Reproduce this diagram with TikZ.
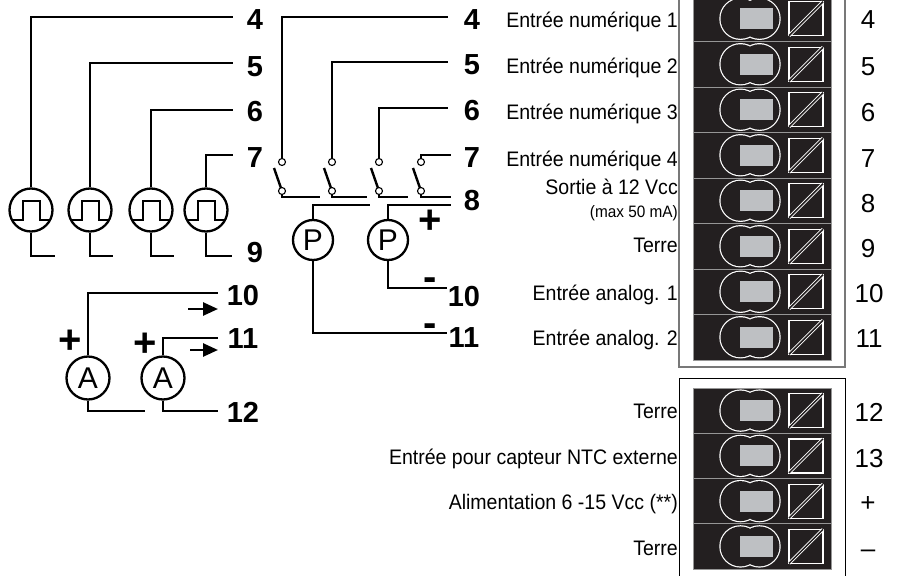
\documentclass[tikz,border=0pt]{standalone}
\usepackage{fontspec}
\setmainfont{Liberation Sans}
\newfontfamily\narrowfont{Liberation Sans}[FakeStretch=0.93]
\usetikzlibrary{arrows.meta}
\definecolor{colblack}{RGB}{35,31,32}
\definecolor{colgray}{RGB}{190,192,195}
\definecolor{colsep}{RGB}{150,150,150}
\definecolor{colframe}{RGB}{120,120,120}
\pgfdeclarelayer{bg}
\pgfsetlayers{bg,main}
\tikzset{
  % WIRES
  lineWire/.style={draw=black, line width=2.6pt},
  lineArrow/.style={draw=black, line width=2.6pt, -{Triangle[length=15pt,width=13pt]}},
  lineBlade/.style={draw=black, line width=2.4pt, shorten <=3pt},
  % SENSORS AND CONTACTS
  frameMeter/.style={
    circle, draw, line width=2.3pt,
    minimum size=43pt, inner sep=0pt,
    font=\fontsize{30}{30}\selectfont,
    text height=21.5pt, text depth=0pt
  },
  frameContact/.style={
    circle, draw, fill=white, line width=1.1pt,
    minimum size=7pt, inner sep=0pt
  },
  % LABELS
  labelPin/.style={
    inner sep=0pt, font=\fontsize{29}{29}\selectfont\bfseries,
    text height=20.8pt, text depth=0pt
  },
  labelSign/.style={inner sep=0pt, font=\fontsize{40}{40}\selectfont\bfseries},
  labelText/.style={
    anchor=east, inner sep=0pt, font=\narrowfont\fontsize{21}{22}\selectfont,
    text height=15pt, text depth=0pt
  },
  labelSmall/.style={
    anchor=east, inner sep=0pt, font=\narrowfont\fontsize{16.5}{17}\selectfont,
    text height=11.8pt, text depth=0pt
  },
  labelNum/.style={
    inner sep=0pt, font=\fontsize{26}{26}\selectfont,
    text height=18.6pt, text depth=0pt
  },
  % TERMINAL ROW
  terminal/.pic={
    \filldraw [fill=colblack, draw=colsep, line width=0.6pt] (-69pt,-22.7pt) rectangle (69pt,22.7pt);
    \draw [white, line width=2.4pt] (-21.5pt,0pt) circle (20pt) (-2.5pt,0pt) circle (20pt);
    \fill [colblack] (-21.5pt,0pt) circle (20pt) (-2.5pt,0pt) circle (20pt);
    \fill [colgray] (-22.5pt,-10.5pt) rectangle (11pt,10.5pt);
    \draw [white, line width=1.2pt] (27pt,-17pt) rectangle (61pt,17pt);
    \draw [white, line width=0.9pt, double=colblack, double distance=1.5pt] (27pt,-17pt) -- (61pt,17pt);
  }
}

\begin{document}
\begin{tikzpicture}[x=1pt,y=-1pt]
\useasboundingbox (0,0) rectangle (903,576);

% Terminal boxes
\draw [colframe, line width=1.5pt] (679,-5) rectangle (845,367);
\draw [black, line width=1pt] (679,378) rectangle (845,590);

\pic at (762,18.75) {terminal};
\pic at (762,64.25) {terminal};
\pic at (762,109.75) {terminal};
\pic at (762,155.25) {terminal};
\pic at (762,200.75) {terminal};
\pic at (762,246.25) {terminal};
\pic at (762,291.75) {terminal};
\pic at (762,337.25) {terminal};

\pic at (762,410.6) {terminal};
\pic at (762,455.9) {terminal};
\pic at (762,501.1) {terminal};
\pic at (762,546.4) {terminal};

% Terminal numbers
\node [labelNum] (num4) at (868,19) {4};
\node [labelNum] (num5) at (868,66) {5};
\node [labelNum] (num6) at (868,112) {6};
\node [labelNum] (num7) at (868,158) {7};
\node [labelNum] (num8) at (868,203) {8};
\node [labelNum] (num9) at (868,248) {9};
\node [labelNum] (num10) at (869,293) {10};
\node [labelNum] (num11) at (869,338) {11};
\node [labelNum] (num12) at (869,412) {12};
\node [labelNum] (num13) at (869,458) {13};
\node [labelNum] (numPlus) at (868,502) {+};
\node [labelNum] (numMinus) at (868,548) {--};

% Terminal descriptions
\node [labelText] (txtDig1) at (678,20) {Entrée numérique 1};
\node [labelText] (txtDig2) at (678,66) {Entrée numérique 2};
\node [labelText] (txtDig3) at (678,112) {Entrée numérique 3};
\node [labelText] (txtDig4) at (678,159) {Entrée numérique 4};
\node [labelText] (txtOut) at (678,187) {Sortie à 12 Vcc};
\node [labelSmall] (txtOutMax) at (678,212) {(max 50 mA)};
\node [labelText] (txtGnd1) at (678,245) {Terre};
\node [labelText] (txtAna1) at (678,293) {Entrée analog. 1};
\node [labelText] (txtAna2) at (678,338) {Entrée analog. 2};
\node [labelText] (txtGnd2) at (678,411) {Terre};
\node [labelText] (txtNtc) at (678,457) {Entrée pour capteur NTC externe};
\node [labelText] (txtSupply) at (678,502) {Alimentation 6 -15 Vcc (**)};
\node [labelText] (txtGnd3) at (678,548) {Terre};

% Pulse inputs
\node [frameMeter] (pulse1) at (31,210) {};
\node [frameMeter] (pulse2) at (90,210) {};
\node [frameMeter] (pulse3) at (151,210) {};
\node [frameMeter] (pulse4) at (206,210) {};

\node [labelPin] (pin4L) at (255,19) {4};
\node [labelPin] (pin5L) at (255,66) {5};
\node [labelPin] (pin6L) at (255,111) {6};
\node [labelPin] (pin7L) at (255,157) {7};
\node [labelPin] (pin9L) at (255,252) {9};

\coordinate (end4L) at (233,17);
\coordinate (end5L) at (233,63);
\coordinate (end6L) at (233,110);
\coordinate (end7L) at (233,155);
\coordinate (end9L) at (232,256);
\coordinate (stub1) at (55,256);
\coordinate (stub2) at (113,256);
\coordinate (stub3) at (174,256);

% Switch inputs
\node [frameContact] (sw1a) at (282,162) {};
\node [frameContact] (sw1b) at (282,191) {};
\node [frameContact] (sw2a) at (332,162) {};
\node [frameContact] (sw2b) at (332,191) {};
\node [frameContact] (sw3a) at (379,162) {};
\node [frameContact] (sw3b) at (379,191) {};
\node [frameContact] (sw4a) at (421,162) {};
\node [frameContact] (sw4b) at (421,191) {};

\node [frameMeter, minimum size=40pt] (press1) at (313,240) {P};
\node [frameMeter, minimum size=40pt] (press2) at (388,240) {P};

\node [labelPin] (pin4M) at (472,19) {4};
\node [labelPin] (pin5M) at (472,64) {5};
\node [labelPin] (pin6M) at (472,110) {6};
\node [labelPin] (pin7M) at (472,157) {7};
\node [labelPin] (pin8M) at (472,200) {8};
\node [labelPin] (pin10M) at (464,296) {10};
\node [labelPin] (pin11M) at (464,337) {11};

\node [labelSign] (plusP) at (430,222) {+};
\node [labelSign] (minusP2) at (430,284) {-};
\node [labelSign] (minusP1) at (430,330) {-};

\coordinate (end4M) at (448,17);
\coordinate (end5M) at (448,62);
\coordinate (end6M) at (448,108);
\coordinate (end7M) at (451,155);
\coordinate (end8M) at (451,197);
\coordinate (end8Mb) at (451,205);
\coordinate (end10M) at (447,288);
\coordinate (end11M) at (447,333);
\coordinate (bus1) at (320,197);
\coordinate (bus2) at (367,197);
\coordinate (bus3) at (408,197);
\coordinate (bus4) at (370,205);

% Current inputs
\node [frameMeter] (amp1) at (88,378) {A};
\node [frameMeter] (amp2) at (163,378) {A};

\node [labelPin] (pin10L) at (243,295) {10};
\node [labelPin] (pin11L) at (243,338) {11};
\node [labelPin] (pin12L) at (243,412) {12};

\node [labelSign] (plusA1) at (70,342) {+};
\node [labelSign] (plusA2) at (145,345) {+};

\coordinate (end10L) at (218,293);
\coordinate (end11L) at (218,338);
\coordinate (end12L) at (218,411);
\coordinate (stubA) at (145,411);
\coordinate (arr1s) at (188,309);
\coordinate (arr1e) at (218,309);
\coordinate (arr2s) at (190,350);
\coordinate (arr2e) at (218,350);

% Pulse symbols
\path [lineWire] (pulse1.center) ++(-19,10) -- ++(11,0) -- ++(0,-19) -- ++(17,0) -- ++(0,19) -- ++(10,0);
\path [lineWire] (pulse2.center) ++(-19,10) -- ++(11,0) -- ++(0,-19) -- ++(17,0) -- ++(0,19) -- ++(10,0);
\path [lineWire] (pulse3.center) ++(-19,10) -- ++(11,0) -- ++(0,-19) -- ++(17,0) -- ++(0,19) -- ++(10,0);
\path [lineWire] (pulse4.center) ++(-19,10) -- ++(11,0) -- ++(0,-19) -- ++(17,0) -- ++(0,19) -- ++(10,0);

% Lines
\begin{pgfonlayer}{bg}
\path [lineWire] (pulse1.north) |- (end4L);
\path [lineWire] (pulse2.north) |- (end5L);
\path [lineWire] (pulse3.north) |- (end6L);
\path [lineWire] (pulse4.north) |- (end7L);
\path [lineWire] (pulse1.south) |- (stub1);
\path [lineWire] (pulse2.south) |- (stub2);
\path [lineWire] (pulse3.south) |- (stub3);
\path [lineWire] (pulse4.south) |- (end9L);

\path [lineWire] (sw1a.center) |- (end4M);
\path [lineWire] (sw2a.center) |- (end5M);
\path [lineWire] (sw3a.center) |- (end6M);
\path [lineWire] (sw4a.center) |- (end7M);
\path [lineWire] (sw1b.center) |- (bus1);
\path [lineWire] (sw2b.center) |- (bus2);
\path [lineWire] (sw3b.center) |- (bus3);
\path [lineWire] (sw4b.center) |- (end8M);
\path [lineBlade] (sw1b.center) -- ++(-8,-23);
\path [lineBlade] (sw2b.center) -- ++(-8,-23);
\path [lineBlade] (sw3b.center) -- ++(-8,-23);
\path [lineBlade] (sw4b.center) -- ++(-8,-23);

\path [lineWire] (press1.north) |- (bus4);
\path [lineWire] (press2.north) |- (end8Mb);
\path [lineWire] (press2.south) |- (end10M);
\path [lineWire] (press1.south) |- (end11M);

\path [lineWire] (amp1.north) |- (end10L);
\path [lineWire] (amp2.north) |- (end11L);
\path [lineWire] (amp1.south) |- (stubA);
\path [lineWire] (amp2.south) |- (end12L);
\end{pgfonlayer}

\path [lineArrow] (arr1s) -- (arr1e);
\path [lineArrow] (arr2s) -- (arr2e);

\end{tikzpicture}
\end{document}
